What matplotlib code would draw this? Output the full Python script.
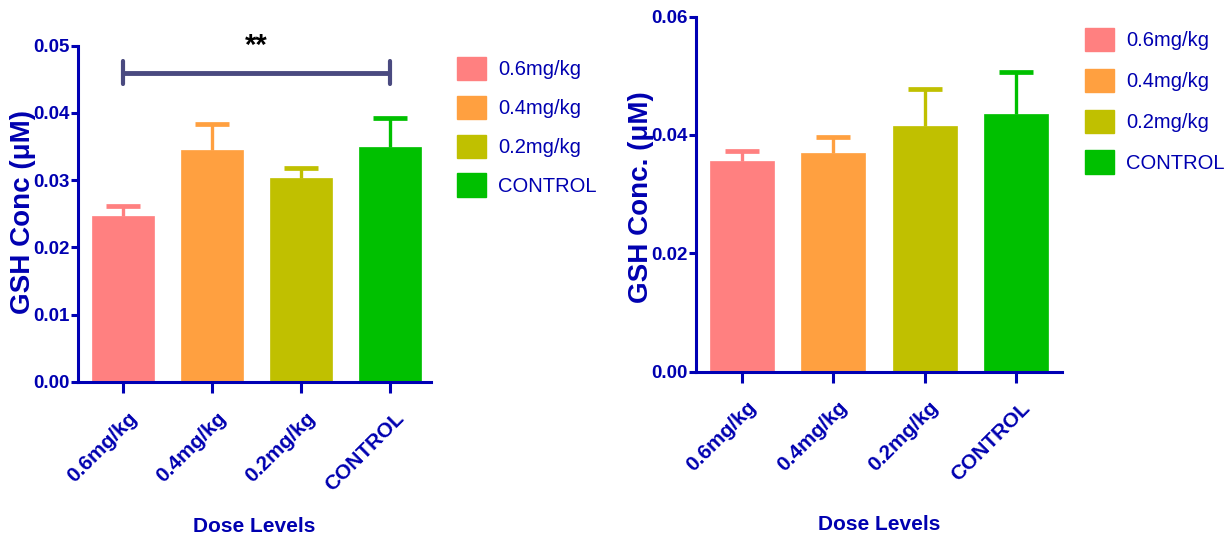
import matplotlib
matplotlib.use("Agg")
import matplotlib.pyplot as plt
import matplotlib.transforms as mtransforms
from matplotlib.patches import Patch
import numpy as np

# ---- data ----
categories = ["0.6mg/kg", "0.4mg/kg", "0.2mg/kg", "CONTROL"]
left_means = [0.0247, 0.0345, 0.0303, 0.0349]
left_errs = [0.0015, 0.0039, 0.0015, 0.0044]
right_means = [0.0356, 0.0370, 0.0415, 0.0436]
right_errs = [0.0017, 0.0026, 0.0063, 0.0070]
left_yticks = [0.00, 0.01, 0.02, 0.03, 0.04, 0.05]
right_yticks = [0.00, 0.02, 0.04, 0.06]
sig_label = "**"
sig_pair = (0, 3)
sig_height = 0.0460

colors = ["#FF8080", "#FFA040", "#C0C000", "#00C000"]
blue = "#0000B0"
spine_blue = "#0000B4"
sig_color = "#4A4A80"

fam = ["Liberation Sans", "DejaVu Sans"]

fig = plt.figure(figsize=(12.28, 5.41), dpi=100)
ax1 = fig.add_axes([78/1228, 159.3/541, 353/1228, 336/541])
ax2 = fig.add_axes([696/1228, 169.5/541, 365.7/1228, 354.8/541])


def style_axes(ax, means, errs, yticks, ylim, xlim):
    x = np.arange(len(categories))
    for i in range(len(categories)):
        ax.bar(x[i], means[i], width=0.7, color=colors[i], edgecolor=colors[i],
               linewidth=0.5, zorder=2)
        top = means[i] + errs[i]
        ax.vlines(x[i], means[i], top, color=colors[i], lw=2.4, zorder=3)
        ax.plot([x[i]], [top], marker="_", markersize=24, mew=3.4,
                color=colors[i], zorder=3)
    ax.set_xlim(*xlim)
    ax.set_ylim(*ylim)
    ax.set_yticks(yticks)
    ax.set_yticklabels([f"{v:.2f}" for v in yticks])
    ax.set_xticks(x)
    ax.set_xticklabels(categories)
    for s in ["top", "right"]:
        ax.spines[s].set_visible(False)
    for s in ["left", "bottom"]:
        ax.spines[s].set_color(spine_blue)
        ax.spines[s].set_linewidth(2.2)
    ax.tick_params(axis="y", length=5, width=2.2, color=spine_blue, pad=1,
                   labelsize=13.5, labelcolor=blue)
    ax.tick_params(axis="x", length=8, width=2.2, color=spine_blue, pad=16,
                   labelsize=15, labelcolor=blue)
    for lab in ax.get_yticklabels():
        lab.set_fontfamily(fam)
        lab.set_fontweight("bold")
    offset = mtransforms.ScaledTranslation(11/100, 0, fig.dpi_scale_trans)
    for lab in ax.get_xticklabels():
        lab.set_fontfamily(fam)
        lab.set_fontweight("bold")
        lab.set_rotation(45)
        lab.set_ha("right")
        lab.set_va("center")
        lab.set_rotation_mode("anchor")
        lab.set_transform(lab.get_transform() + offset)
    ax.set_xlabel("Dose Levels", fontsize=15, fontweight="bold", color=blue,
                  family=fam, va="center")
    ax.patch.set_alpha(0)


style_axes(ax1, left_means, left_errs, left_yticks, (0, 0.05), (-0.51, 3.46))
style_axes(ax2, right_means, right_errs, right_yticks, (0, 0.06), (-0.504, 3.50))

ax1.xaxis.set_label_coords(0.5, -(527 - 381.7) / 336, transform=ax1.transAxes)
ax2.xaxis.set_label_coords(0.5, -(525 - 371.5) / 354.8, transform=ax2.transAxes)

# y labels
fig.text(23/1228, 1 - 212/541, "GSH Conc (μM)", rotation=90,
         ha="center", va="center", fontsize=20, fontweight="bold", color=blue,
         family=fam)
fig.text(641/1228, 1 - 197/541, "GSH Conc. (μM)", rotation=90,
         ha="center", va="center", fontsize=20, fontweight="bold", color=blue,
         family=fam)

# significance bracket
sx = list(sig_pair)
ax1.plot(sx, [sig_height, sig_height], color=sig_color, lw=3.5, clip_on=False,
         solid_capstyle="butt", zorder=4)
for xx in sx:
    ax1.plot([xx, xx], [sig_height - 0.0017, sig_height + 0.0017], color=sig_color,
             lw=3.0, clip_on=False, solid_capstyle="round", zorder=4)
ax1.text(np.mean(sx), 0.0500, sig_label, ha="center", va="center", fontsize=21,
         fontweight="bold", color="black", clip_on=False, family=fam)

# legends
handles = [Patch(facecolor=c, edgecolor=c) for c in colors]
for ax, (lx, ly), ls in [(ax1, (457/1228, 1 - 57/541), 0.77),
                         (ax2, (1085/1228, 1 - 28/541), 0.87)]:
    leg = ax.legend(handles, categories, loc="upper left", bbox_to_anchor=(lx, ly),
                    bbox_transform=fig.transFigure, frameon=False, borderpad=0,
                    borderaxespad=0, handlelength=1.45, handleheight=1.4,
                    handletextpad=0.6, labelspacing=ls,
                    prop={"family": fam, "size": 14.5})
    for t in leg.get_texts():
        t.set_color(blue)

fig.savefig("out.png", dpi=100)
